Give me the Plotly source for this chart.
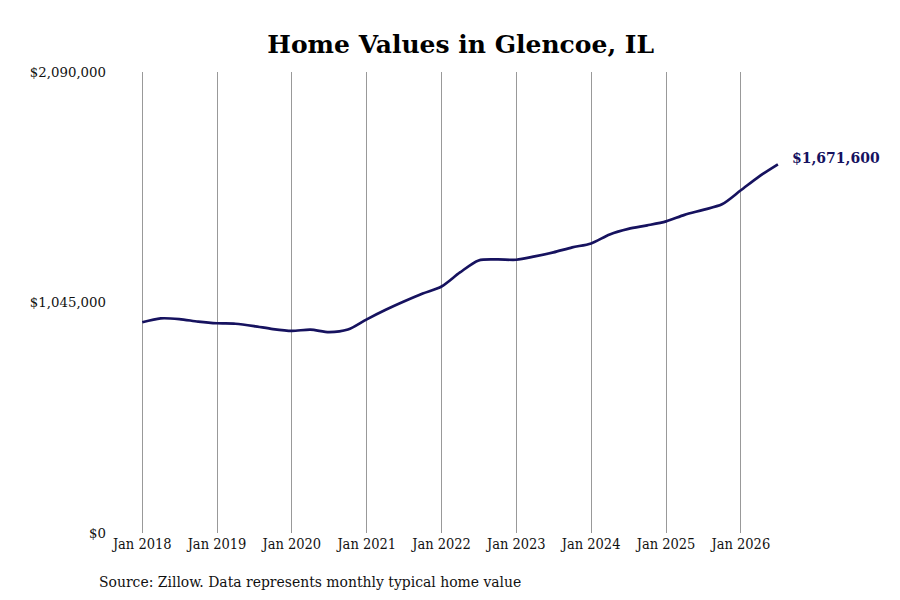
import plotly.graph_objects as go

# quarterly readings of the typical home value (USD)
dates = [
    "2018-01-01", "2018-04-01", "2018-07-01", "2018-10-01",
    "2019-01-01", "2019-04-01", "2019-07-01", "2019-10-01",
    "2020-01-01", "2020-04-01", "2020-07-01", "2020-10-01",
    "2021-01-01", "2021-04-01", "2021-07-01", "2021-10-01",
    "2022-01-01", "2022-04-01", "2022-07-01", "2022-10-01",
    "2023-01-01", "2023-04-01", "2023-07-01", "2023-10-01",
    "2024-01-01", "2024-04-01", "2024-07-01", "2024-10-01",
    "2025-01-01", "2025-04-01", "2025-07-01", "2025-10-01",
    "2026-01-01", "2026-04-01", "2026-07-01",
]
values = [
    955400, 973100, 969900, 958600,
    950900, 948600, 938100, 924500,
    916300, 922200, 910900, 922200,
    968600, 1010800, 1049400, 1085800,
    1117600, 1181200, 1235700, 1240200,
    1238900, 1253900, 1272000, 1294800,
    1312900, 1353800, 1378800, 1394700,
    1412900, 1442400, 1465100, 1490100,
    1553700, 1617300, 1671600,
]

x_ticks = ["2018-01-01", "2019-01-01", "2020-01-01", "2021-01-01", "2022-01-01",
           "2023-01-01", "2024-01-01", "2025-01-01", "2026-01-01"]
x_labels = ["Jan 2018", "Jan 2019", "Jan 2020", "Jan 2021", "Jan 2022",
            "Jan 2023", "Jan 2024", "Jan 2025", "Jan 2026"]
y_ticks = [0, 1045000, 2090000]
y_labels = ["$0", "$1,045,000", "$2,090,000"]

navy = "#16125f"

fig = go.Figure()
fig.add_trace(go.Scatter(
    x=dates, y=values, mode="lines",
    line=dict(color=navy, width=2.7, shape="spline", smoothing=0.8),
    hoverinfo="skip", showlegend=False,
))

# label for the latest value
fig.add_annotation(
    x=dates[-1], y=values[-1], text="<b>$%s</b>" % format(values[-1], ","),
    showarrow=False, xanchor="left", xshift=12, yshift=6,
    font=dict(family="DejaVu Serif", size=14, color=navy),
)

fig.add_annotation(
    text="Source: Zillow. Data represents monthly typical home value",
    xref="paper", yref="paper", x=-0.0267, y=-0.106, xanchor="left", yanchor="middle",
    showarrow=False, font=dict(family="DejaVu Serif Condensed", size=15.5, color="#111"),
)

fig.update_layout(
    width=900, height=600,
    margin=dict(l=107, r=118, t=64, b=75),
    paper_bgcolor="white", plot_bgcolor="white",
    title=dict(text="<b>Home Values in Glencoe, IL</b>", xref="container", x=0.503,
               xanchor="center", yref="container", y=0.94, yanchor="middle",
               font=dict(family="DejaVu Serif", size=25, color="#000")),
    xaxis=dict(
        type="date", range=["2017-08-21", "2026-08-29"],
        tickvals=x_ticks, ticktext=x_labels,
        showgrid=True, gridcolor="#999", gridwidth=1,
        ticks="", showline=False, zeroline=False,
        tickfont=dict(family="DejaVu Serif Condensed", size=14.5, color="#111"),
    ),
    yaxis=dict(
        range=[0, 2090000], tickvals=y_ticks, ticktext=y_labels,
        showgrid=False, zeroline=False, showline=False, ticks="",
        ticklabelstandoff=8,
        tickfont=dict(family="DejaVu Serif", size=13.3, color="#111"),
    ),
)

fig.write_html("out.html")
